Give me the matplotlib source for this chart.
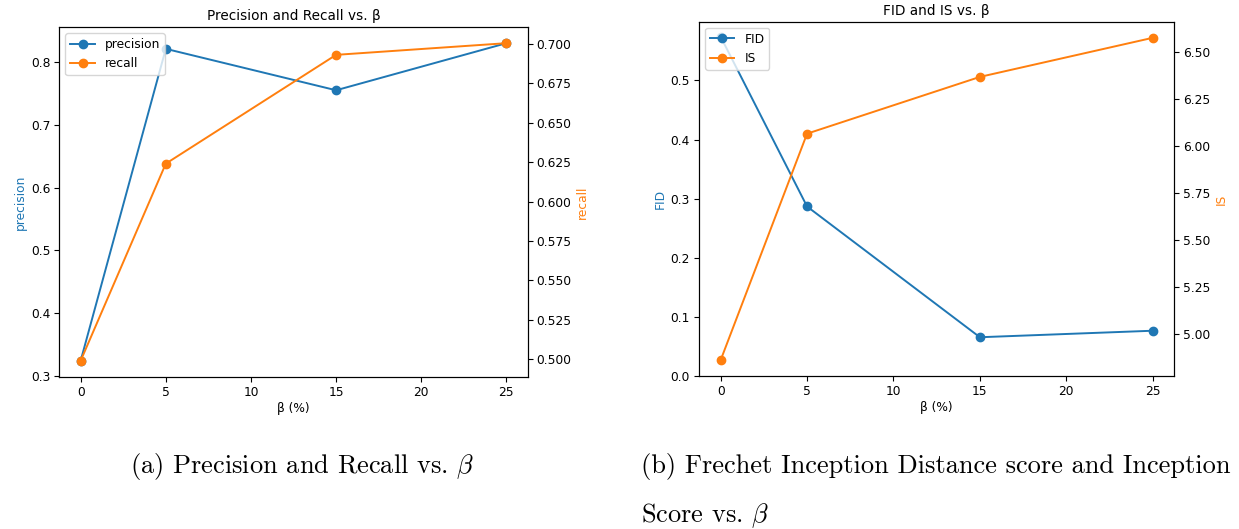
import matplotlib.pyplot as plt

# beta values (%) shared by both panels
beta = [0, 5, 15, 25]

# panel (a)
precision = [0.324, 0.821, 0.755, 0.830]
recall = [0.499, 0.624, 0.693, 0.7004]

# panel (b)
fid = [0.574, 0.287, 0.066, 0.077]
inception = [4.860, 6.065, 6.367, 6.575]

plt.rcParams['mathtext.fontset'] = 'cm'
FS = 8.8


def twin_panel(ax1, x, y1, y2, name1, name2, title):
    l1, = ax1.plot(x, y1, 'o-', color='tab:blue', lw=1.4, ms=6, label=name1)
    ax1.set_ylabel(name1, color='tab:blue', fontsize=FS, labelpad=3)
    ax1.set_xlabel('β (%)', fontsize=FS, labelpad=2)
    ax1.tick_params(labelsize=FS, length=3.5, pad=3)
    ax2 = ax1.twinx()
    l2, = ax2.plot(x, y2, 'o-', color='tab:orange', lw=1.4, ms=6, label=name2)
    ax2.set_ylabel(name2, color='tab:orange', fontsize=FS, labelpad=3)
    ax2.tick_params(labelsize=FS, length=3.5, pad=3)
    ax1.set_title(title, fontsize=9.8, pad=5)
    ax1.legend(handles=[l1, l2], loc='upper left', fontsize=FS)
    return ax2


fig = plt.figure(figsize=(12.39, 5.29), dpi=100)

ax_a = fig.add_axes([0.0479, 0.2879, 0.3780, 0.6605])
twin_panel(ax_a, beta, precision, recall, 'precision', 'recall',
           'Precision and Recall vs. β')

ax_b = fig.add_axes([0.5642, 0.2887, 0.3836, 0.6703])
twin_panel(ax_b, beta, fid, inception, 'FID', 'IS', 'FID and IS vs. β')
ax_b.set_ylim(bottom=0)

# captions below the panels
cap = dict(family='cmr10', fontsize=19, va='center')
fig.text(302 / 1239, 1 - 467 / 529, r'(a) Precision and Recall vs. $\beta$', ha='center', **cap)
fig.text(641 / 1239, 1 - 467 / 529, '(b) Frechet Inception Distance score and Inception', ha='left', **cap)
fig.text(641 / 1239, 1 - 516 / 529, r'Score vs. $\beta$', ha='left', **cap)

fig.savefig('out.png', dpi=100)
